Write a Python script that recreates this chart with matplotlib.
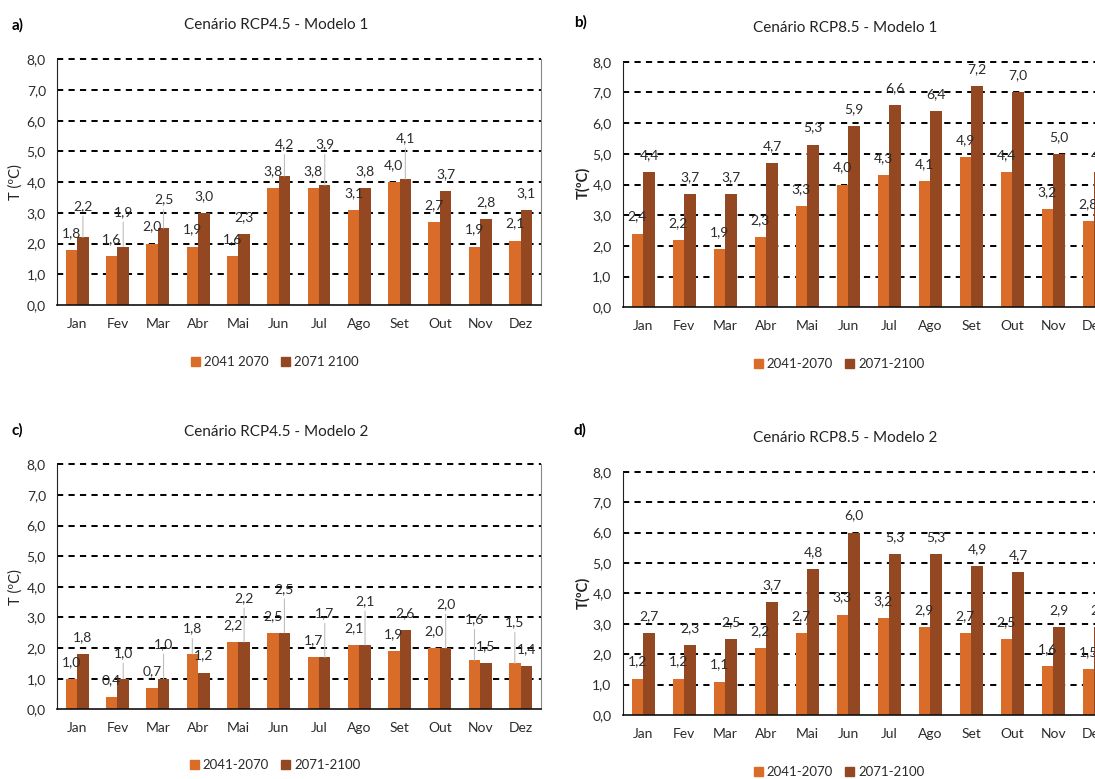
import numpy as np
import matplotlib
matplotlib.use("Agg")
import matplotlib.pyplot as plt

plt.rcParams['font.family'] = ['Lato', 'DejaVu Sans']

months = ['Jan', 'Fev', 'Mar', 'Abr', 'Mai', 'Jun', 'Jul', 'Ago', 'Set', 'Out', 'Nov', 'Dez']

# a) RCP4.5 - Modelo 1
a_2041 = [1.8, 1.6, 2.0, 1.9, 1.6, 3.8, 3.8, 3.1, 4.0, 2.7, 1.9, 2.1]
a_2071 = [2.2, 1.9, 2.5, 3.0, 2.3, 4.2, 3.9, 3.8, 4.1, 3.7, 2.8, 3.1]
# b) RCP8.5 - Modelo 1
b_2041 = [2.4, 2.2, 1.9, 2.3, 3.3, 4.0, 4.3, 4.1, 4.9, 4.4, 3.2, 2.8]
b_2071 = [4.4, 3.7, 3.7, 4.7, 5.3, 5.9, 6.6, 6.4, 7.2, 7.0, 5.0, 4.4]
# c) RCP4.5 - Modelo 2
c_2041 = [1.0, 0.4, 0.7, 1.8, 2.2, 2.5, 1.7, 2.1, 1.9, 2.0, 1.6, 1.5]
c_2071 = [1.8, 1.0, 1.0, 1.2, 2.2, 2.5, 1.7, 2.1, 2.6, 2.0, 1.5, 1.4]
# d) RCP8.5 - Modelo 2
d_2041 = [1.2, 1.2, 1.1, 2.2, 2.7, 3.3, 3.2, 2.9, 2.7, 2.5, 1.6, 1.5]
d_2071 = [2.7, 2.3, 2.5, 3.7, 4.8, 6.0, 5.3, 5.3, 4.9, 4.7, 2.9, 2.9]

C1 = '#D96C28'
C2 = '#934822'
W, H = 1095, 779
DPI = 100
PX = 72.0 / DPI  # points per pixel


def fmt(v):
    return f"{v:.1f}".replace('.', ',')


def panel(fig, rect, light, dark, leaders):
    ax = fig.add_axes(rect)
    x = np.arange(len(months))
    w = 0.285
    ax.bar(x - w / 2, light, w, color=C1, zorder=2)
    ax.bar(x + w / 2, dark, w, color=C2, zorder=2)
    ax.set_xlim(-0.5, 11.5)
    ax.set_ylim(0, 8)
    for y in range(1, 9):
        ax.axhline(y, color='black', lw=1.4, ls=(0, (3.2, 2.7)), clip_on=False, zorder=1)
    ax.set_yticks(range(0, 9))
    ax.set_yticklabels([fmt(v) for v in range(0, 9)], fontsize=10, color='#2b2b2b')
    ax.set_xticks(x)
    ax.set_xticklabels(months, fontsize=10, color='#2b2b2b')
    ax.tick_params(axis='y', length=0, pad=8)
    ax.tick_params(axis='x', length=0, pad=9)
    ax.spines['top'].set_visible(False)
    ax.spines['left'].set_color('#222222')
    ax.spines['bottom'].set_color('#111111')
    ax.spines['bottom'].set_linewidth(1.2)
    ax.spines['right'].set_color('#888888')

    ppu = rect[3] * H / 8.0  # pixels per unit
    base = 17
    for i in range(len(months)):
        l, d = light[i], dark[i]
        offs = [base, base]
        raised = None
        # labels that would collide get pushed up with a leader line
        if leaders and abs(l - d) < 0.65:
            if d >= l:
                offs[1] = (l - d) * ppu + base + 27
                raised = 1
            else:
                offs[0] = (d - l) * ppu + base + 27
                raised = 0
        for k, (v, xx) in enumerate([(l, x[i] - w / 2), (d, x[i] + w / 2)]):
            props = None
            if raised == k:
                props = dict(arrowstyle='-', color='#BFBFBF', lw=0.8, shrinkA=1, shrinkB=0)
            ax.annotate(fmt(v), xy=(xx, v), xytext=(0, offs[k] * PX),
                        textcoords='offset points', ha='center', va='center',
                        fontsize=10, color='#2b2b2b', arrowprops=props, zorder=3)
    return ax


fig = plt.figure(figsize=(W / DPI, H / DPI), dpi=DPI)

panels = [
    ((57, 59.3, 540.7, 305), a_2041, a_2071, True, 'a)', 'Cenário RCP4.5 - Modelo 1',
     (12, 25), (276, 25), (16, 182), 'T (ºC)', 'normal', (275, 362), ('2041 2070', '2071 2100')),
    ((622.7, 61.7, 1114.7, 307.3), b_2041, b_2071, False, 'b)', 'Cenário RCP8.5 - Modelo 1',
     (574, 22), (845, 28), (583, 183), 'T(ºC)', 'bold', (839, 364), ('2041-2070', '2071-2100')),
    ((57, 464.3, 540.7, 709.3), c_2041, c_2071, True, 'c)', 'Cenário RCP4.5 - Modelo 2',
     (12, 430), (276, 432), (16, 587), 'T (ºC)', 'normal', (275, 765), ('2041-2070', '2071-2100')),
    ((622.7, 471.7, 1114.7, 715), d_2041, d_2071, False, 'd)', 'Cenário RCP8.5 - Modelo 2',
     (574, 430), (845, 438), (583, 593), 'T(ºC)', 'bold', (839, 772), ('2041-2070', '2071-2100')),
]

for box, light, dark, lead, tag, title, tagpos, tpos, ypos, ylab, yw, legpos, names in panels:
    x0, y0, x1, y1 = box
    rect = [x0 / W, 1 - y1 / H, (x1 - x0) / W, (y1 - y0) / H]
    ax = panel(fig, rect, light, dark, lead)
    fig.text(tagpos[0] / W, 1 - tagpos[1] / H, tag, fontsize=11, fontweight='bold',
             ha='left', va='center')
    fig.text(tpos[0] / W, 1 - tpos[1] / H, title, fontsize=11, ha='center', va='center',
             color='#222222')
    fig.text(ypos[0] / W, 1 - ypos[1] / H, ylab, fontsize=10.5, rotation=90, fontweight=yw,
             ha='center', va='center', color='#222222')
    h1 = plt.Rectangle((0, 0), 1, 1, color=C1)
    h2 = plt.Rectangle((0, 0), 1, 1, color=C2)
    fig.legend([h1, h2], list(names), loc='center',
               bbox_to_anchor=(legpos[0] / W, 1 - legpos[1] / H), ncol=2, frameon=False,
               fontsize=9.5, handlelength=0.7, handleheight=0.7, handletextpad=0.3,
               columnspacing=0.9, labelcolor='#2b2b2b')

fig.savefig('out.png', dpi=DPI)
